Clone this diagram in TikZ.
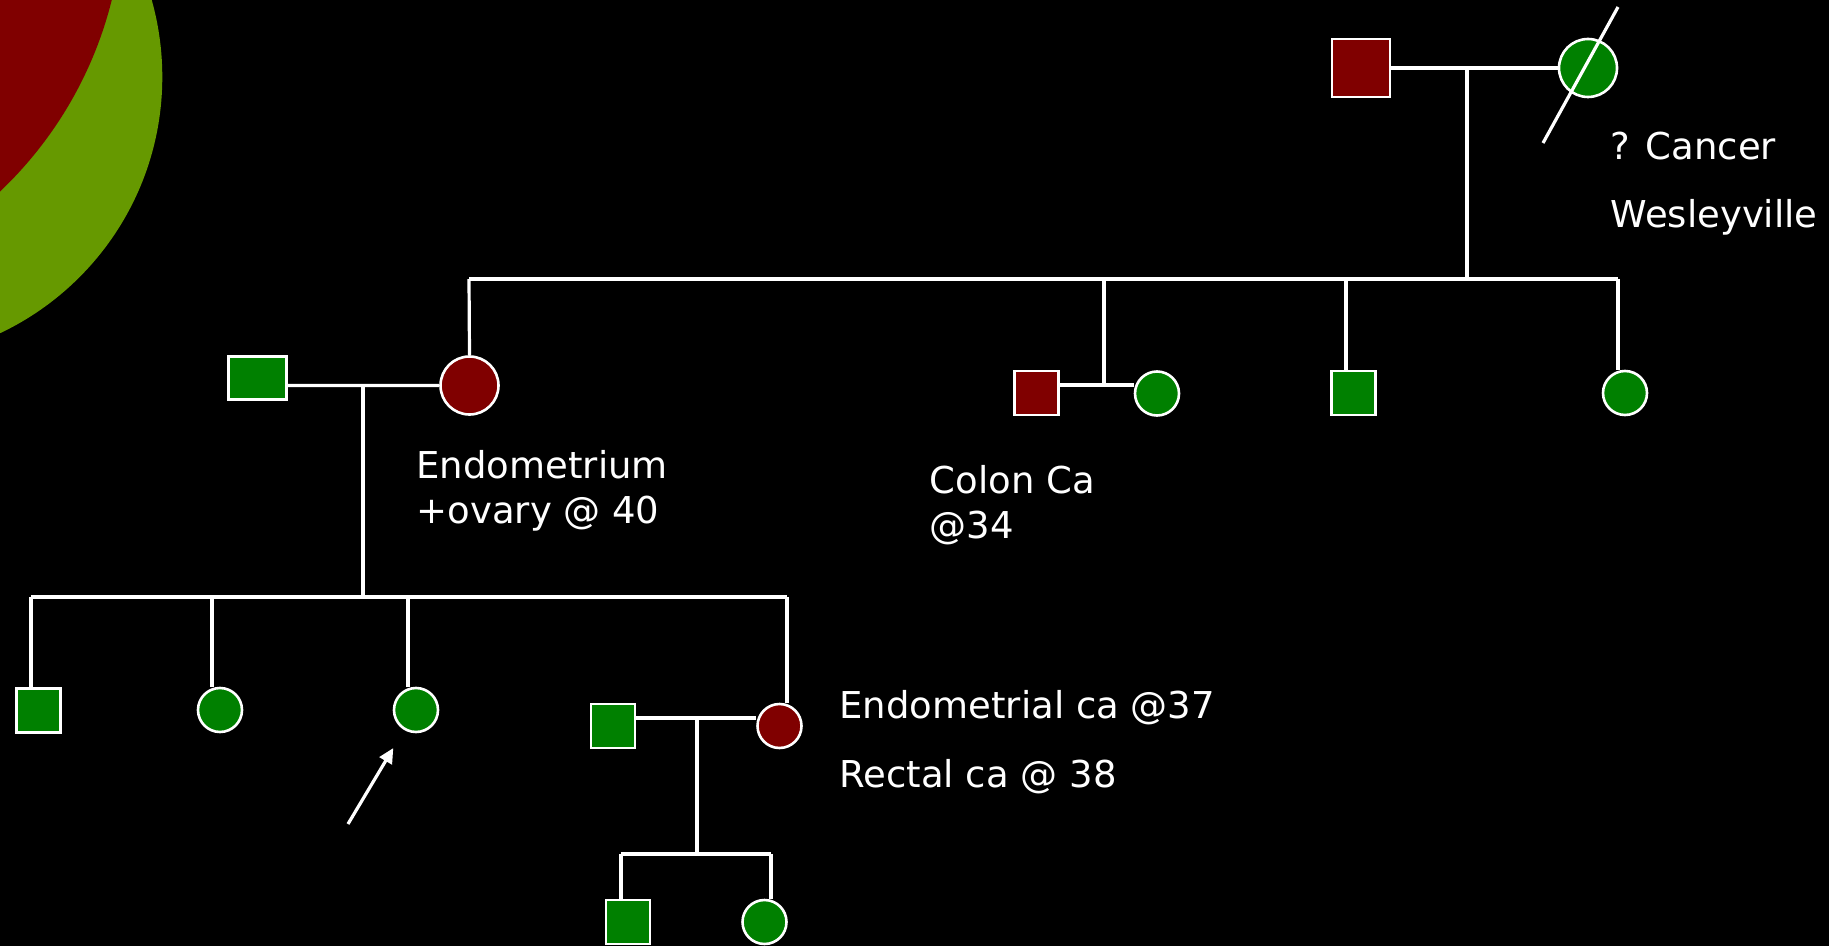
\documentclass[tikz,border=0pt]{standalone}
\usepackage{fontspec}
\setmainfont{DejaVu Sans}
\usetikzlibrary{positioning,calc,arrows.meta}
\definecolor{affred}{RGB}{128,0,0}
\definecolor{unaffgreen}{RGB}{0,128,0}
\definecolor{bggreen}{RGB}{102,153,0}
\tikzset{msq/.style={draw=white,line width=1.3pt,rectangle,minimum width=#1,minimum height=#1,inner sep=0pt}, msq/.default=22pt}
\tikzset{fcirc/.style={draw=white,line width=1.3pt,circle,minimum size=#1,inner sep=0pt}, fcirc/.default=22pt}
\tikzset{lbl/.style={text=white,anchor=base west,inner sep=0pt,font=\fontsize{18.5}{22}\selectfont}}
\tikzset{>={Triangle[length=7.5pt,width=7pt]}}

\begin{document}
\begin{tikzpicture}[x=0.5pt,y=-0.5pt,line width=1.6pt]
	\useasboundingbox (0,0) rectangle (1829,946);
	\fill[black] (0,0) rectangle (1829,946);
	\begin{scope}
		\clip (0,0) rectangle (1829,946);
		\fill[bggreen] (-121,77) circle (141.65pt);
		\fill[affred] (-273.5,-96.2) circle (198.5pt);
	\end{scope}

	% grandparents
	\node[msq=29pt,fill=affred] (gf) at (1361,68) {};
	\node[fcirc=29pt,fill=unaffgreen] (gm) at (1588,68) {};
	\coordinate (gfm) at (1467,68);
	\coordinate (sib1) at (1467,279);
	\draw[white] (gf) -- (gm) (gfm) -- (sib1);
	\draw[white] ($(gm)+(30,-61)$) -- ($(gm)+(-45,75)$);
	\node[lbl] (t1) at (1609,160) {? Cancer};
	\node[lbl] (t2) at (1609,228) {Wesleyville};

	% second generation
	\coordinate (k1) at (469,279);
	\coordinate (k2) at (1104,279);
	\coordinate (k3) at (1346,279);
	\coordinate (k4) at (1618,279);
	\draw[white] (k1) -- (k4);

	\node[msq=29pt,minimum height=21.5pt,fill=unaffgreen] (h2) at (257.5,378) {};
	\node[fcirc=29pt,fill=affred] (d2) at (469.5,385.5) {};
	\draw[white] (k1) -- (d2.north) (d2.west) -- (d2.west -| h2.east);
	\node[lbl] (t3) at (415,478) {Endometrium};
	\node[lbl] (t4) at (415,523) {+ovary @ 40};

	\node[msq,fill=affred] (c3) at (1036.5,393) {};
	\node[fcirc,fill=unaffgreen] (w3) at (1157,393.5) {};
	\coordinate (k2b) at (1104,385);
	\draw[white] (k2) -- (k2b) (c3.east |- k2b) -- (w3.west |- k2b);
	\node[lbl] (t5) at (928,493) {Colon Ca};
	\node[lbl] (t6) at (928,538) {@34};

	\node[msq,fill=unaffgreen] (s4) at (1353.5,393) {};
	\node[fcirc,fill=unaffgreen] (s5) at (1625,393) {};
	\draw[white] (k3) -- (k3 |- s4.north) (k4) -- (k4 |- s5.north);

	% third generation
	\coordinate (m2) at (363,386);
	\coordinate (sib2) at (363,597);
	\coordinate (l1) at (31,597);
	\coordinate (l2) at (212,597);
	\coordinate (l3) at (408,597);
	\coordinate (l4) at (787,597);
	\draw[white] (m2) -- (sib2) (l1) -- (l4);

	\node[msq,fill=unaffgreen] (g1) at (38.5,710.5) {};
	\node[fcirc,fill=unaffgreen] (g2) at (220,710) {};
	\node[fcirc,fill=unaffgreen] (g3) at (416,710) {};
	\node[fcirc,fill=affred] (g4) at (779.5,726) {};
	\node[msq,fill=unaffgreen] (h4) at (613,726) {};
	\draw[white] (l1) -- (l1 |- g1.north) (l2) -- (l2 |- g2.north)
		(l3) -- (l3 |- g3.north) (l4) -- (l4 |- g4.north);
	\coordinate (pb) at (348,824);
	\draw[white,->,shorten >=10.5pt] (pb) -- (g3);

	\coordinate (m4) at (697,718);
	\draw[white] (h4.east |- m4) -- (g4.west |- m4);
	\node[lbl] (t7) at (838,718) {Endometrial ca @37};
	\node[lbl] (t8) at (838,787) {Rectal ca @ 38};

	% fourth generation
	\coordinate (b0) at (697,854);
	\coordinate (b1) at (621,854);
	\coordinate (b2) at (771,854);
	\node[msq,fill=unaffgreen] (g5) at (628,922) {};
	\node[fcirc,fill=unaffgreen] (g6) at (764.5,922) {};
	\draw[white] (m4) -- (b0) (b1) -- (b2) (b1) -- (b1 |- g5.north) (b2) -- (b2 |- g6.north);
\end{tikzpicture}
\end{document}
